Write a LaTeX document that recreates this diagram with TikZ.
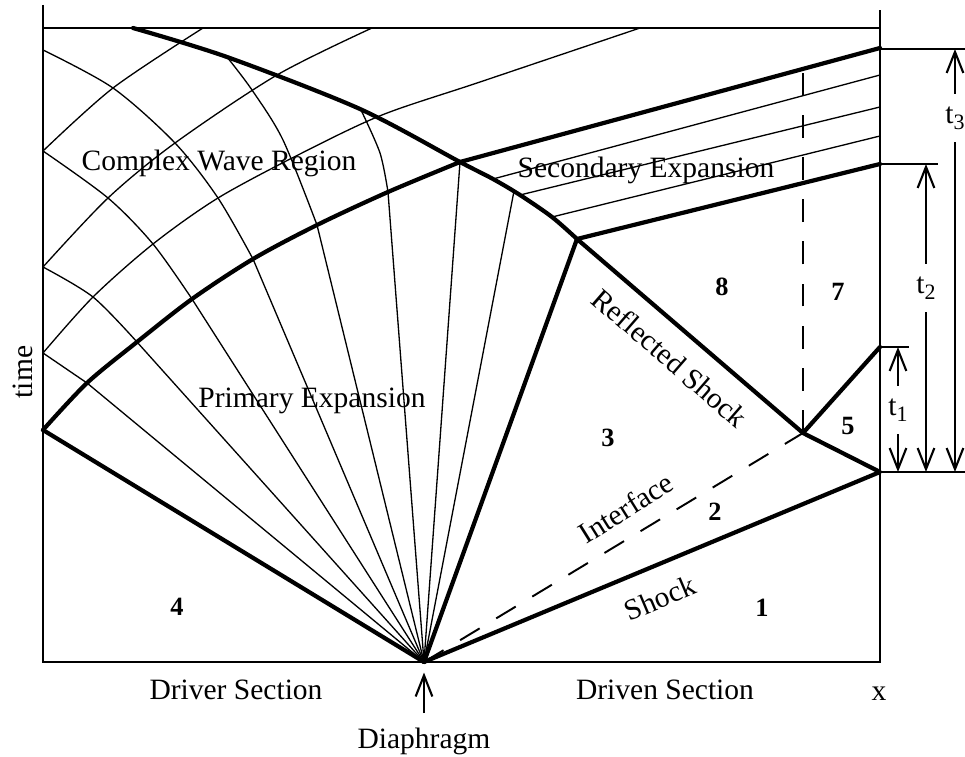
\documentclass[tikz,border=0pt]{standalone}
\usepackage{fontspec}
\setmainfont{Liberation Serif}
\usetikzlibrary{arrows.meta,positioning,calc}
\newcommand{\tsub}[1]{\raisebox{-0.45ex}{\fontsize{12.5}{14}\selectfont #1}}

\begin{document}
\begin{tikzpicture}[x=0.02cm, y=-0.02cm,
    wall/.style={line width=1.2pt},
    wave/.style={line width=2.4pt, line join=round, line cap=round},
    ray/.style={line width=0.75pt},
    iface/.style={line width=1.1pt, dash pattern=on 13pt off 11pt},
    lbl/.style={font=\fontsize{16.8}{20}\selectfont, inner sep=0pt},
    zone/.style={font=\fontsize{15}{18}\selectfont\bfseries, inner sep=0pt},
    tlbl/.style={lbl, inner xsep=0pt, inner ysep=7pt},
    tarrow/.style={line width=1.2pt, -{Straight Barb[length=12pt, width=9.5pt, line width=1.2pt]}}]

\useasboundingbox (0,0) rectangle (965,757);

\coordinate (D) at (424,662);
\coordinate (W0) at (43,430);
\coordinate (J) at (460,162);
\coordinate (T) at (577,239);
\coordinate (X) at (803,433);
\coordinate (S0) at (880,472);
\coordinate (S5) at (880,347);
\coordinate (C) at (880,48);
\coordinate (P1) at (87,383);
\coordinate (P2) at (137,342);
\coordinate (P3) at (192,299);
\coordinate (P4) at (253,259);
\coordinate (P5) at (317,225);
\coordinate (P6) at (388,192);
\coordinate (P7) at (460,162);
\coordinate (P8) at (514,191);

% tube walls
\draw[wall] (43,5) -- (43,662) -- (880,662) -- (880,10);
\draw[wall] (43,28) -- (880,28);

% primary expansion fan
\foreach \i in {1,...,8} \draw[ray] (D) -- (P\i);
\draw[wave] (D) -- (W0);
\draw[wave] plot[smooth] coordinates {(43,430) (87,383) (137,342) (192,299) (253,259) (317,225) (388,192) (460,162)} -- (C);
\draw[wave] (D) -- (T);

% complex wave region
\draw[ray] (P1) -- (43,353);
\draw[ray] plot[smooth] coordinates {(137,342) (93,297) (43,267)};
\draw[ray] plot[smooth] coordinates {(192,299) (153,244) (108,198) (43,151)};
\draw[ray] plot[smooth] coordinates {(253,259) (218,198) (175,143) (113,88) (43,50)};
\draw[ray] plot[smooth] coordinates {(317,225) (283,140) (252,90) (227,57)};
\draw[ray] plot[smooth] coordinates {(388,192) (380,153) (361,110)};
\draw[ray] plot[smooth] coordinates {(43,353) (93,297) (153,244) (218,198) (300,154) (382,115) (480,82) (640,28)};
\draw[ray] plot[smooth] coordinates {(43,267) (108,198) (175,143) (277,75) (372,28)};
\draw[ray] plot[smooth] coordinates {(43,151) (113,88) (203,28)};

% shock, reflected shock
\draw[wave] (D) -- (S0) -- (X) -- plot[smooth] coordinates {(577,239) (552,217) (520,195) (493,179) (460,162) (360,109) (227,57) (133,28)};
\draw[wave] (X) -- (S5);

% secondary expansion
\draw[ray] (493,179) -- (880,75);
\draw[ray] (520,195) -- (880,107);
\draw[ray] (552,217) -- (880,136);
\draw[wave] (T) -- (880,164);

% interface
\draw[iface] (D) -- (X);
\draw[iface] (X) -- (803,69);

% time marks
\draw[wall] (880,49) -- (965,49);
\draw[wall] (880,164) -- (938,164);
\draw[wall] (880,347) -- (909,347);
\draw[wall] (880,472) -- (965,472);
\coordinate (t1top) at (898,347);
\coordinate (t1bot) at (898,472);
\coordinate (t2top) at (926,164);
\coordinate (t2bot) at (926,472);
\coordinate (t3top) at (955,49);
\coordinate (t3bot) at (955,472);
\node[tlbl] (t1) at (898,410) {t\tsub{1}};
\node[tlbl] (t2) at (926,288) {t\tsub{2}};
\node[tlbl] (t3) at (955,118) {t\tsub{3}};
\foreach \k in {1,2,3} {
  \draw[tarrow] (t\k) -- (t\k top);
  \draw[tarrow] (t\k) -- (t\k bot);
}

% labels
\node[lbl] (cwr) at (219,163) {Complex Wave Region};
\node[lbl] (pexp) at (312,401) {Primary Expansion};
\node[lbl] (sexp) at (646,170) {Secondary Expansion};
\node[lbl, rotate=-41] (rshock) at (670,358) {Reflected Shock};
\node[lbl, rotate=32] (intf) at (626,508) {Interface};
\node[lbl, rotate=23] (shock) at (660,598) {Shock};
\node[lbl] (driver) at (236,690) {Driver Section};
\node[lbl] (driven) at (665,690) {Driven Section};
\node[lbl] (xaxis) at (879,694) {x};
\node[lbl] (diaph) at (424,741) {Diaphragm};
\node[lbl, rotate=90] (time) at (23,372) {time};
\draw[tarrow, shorten <=8pt, shorten >=6pt] (diaph) -- (D);

% regions
\node[zone] (z1) at (762,608) {1};
\node[zone] (z2) at (715,512) {2};
\node[zone] (z3) at (608,438) {3};
\node[zone] (z4) at (177,607) {4};
\node[zone] (z5) at (848,426) {5};
\node[zone] (z7) at (838,292) {7};
\node[zone] (z8) at (722,287) {8};
\end{tikzpicture}
\end{document}
